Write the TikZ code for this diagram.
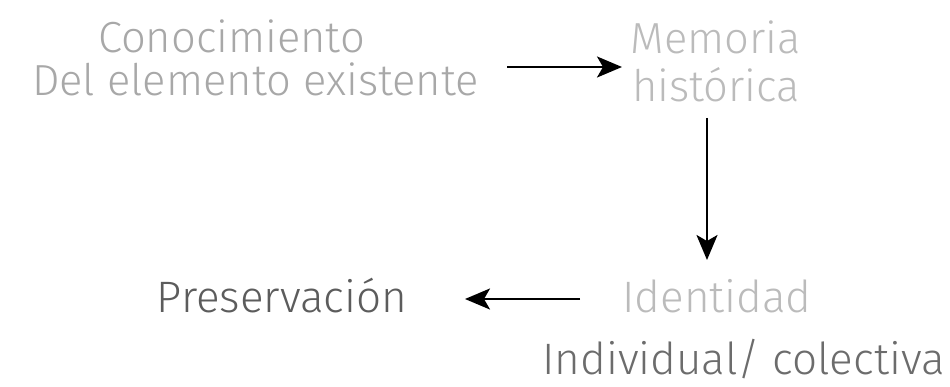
\documentclass[tikz,border=0pt]{standalone}
\usepackage{fontspec}
\IfFontExistsTF{Fira Sans Light}{\setmainfont{Fira Sans Light}}{\setmainfont{Fira Sans}}
\usetikzlibrary{arrows.meta}
\definecolor{lightA}{HTML}{A8A8A8}
\definecolor{lightB}{HTML}{BBBBBB}
\definecolor{darkA}{HTML}{5C5C5C}
\definecolor{darkB}{HTML}{6C6C6C}
\begin{document}
\begin{tikzpicture}[x=1pt,y=1pt,
  lbl/.style={inner sep=0pt,anchor=base,font=\fontsize{43.5}{52}\selectfont},
  big/.style={inner sep=0pt,anchor=base,font=\fontsize{44}{52}\selectfont},
  conn/.style={line width=2.2pt,-{Stealth[length=25pt,width=21pt,inset=6pt]}}]
\useasboundingbox (0,0) rectangle (950,386);
\node[lbl,text=lightA] (con) at (231.5,333) {Conocimiento};
\node[lbl,text=lightA] (del) at (255.5,290) {Del elemento existente};
\node[lbl,text=lightB] (mem) at (716,332) {Memoria};
\node[lbl,text=lightB] (his) at (716,284.5) {histórica};
\node[big,text=lightB] (ide) at (717,74) {Identidad};
\node[big,text=darkA] (pre) at (282,74) {Preservación};
\node[big,text=darkB] (ind) at (743.5,12) {Individual/ colectiva};
\coordinate (a1s) at (507,319);
\coordinate (a1e) at (622,319);
\coordinate (a2s) at (707,268);
\coordinate (a2e) at (707,126);
\coordinate (a3s) at (580,87);
\coordinate (a3e) at (465,87);
\draw[conn] (a1s) -- (a1e);
\draw[conn] (a2s) -- (a2e);
\draw[conn] (a3s) -- (a3e);
\end{tikzpicture}
\end{document}
